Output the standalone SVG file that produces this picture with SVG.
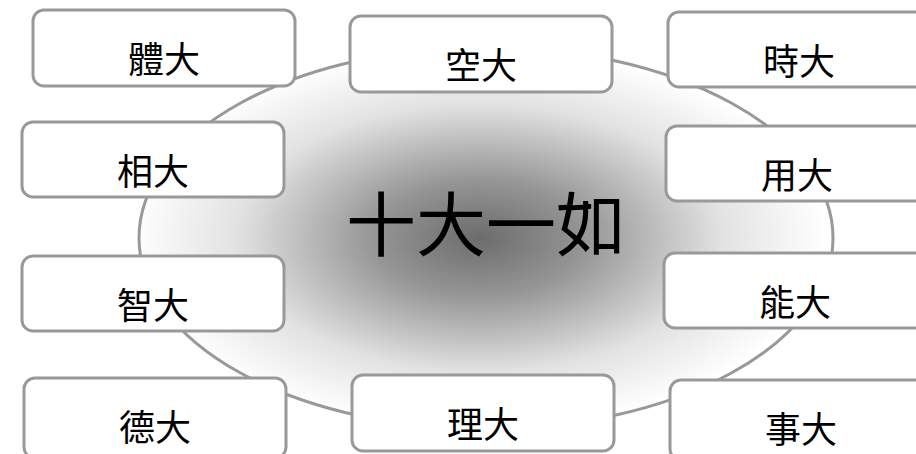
<svg xmlns="http://www.w3.org/2000/svg" width="916" height="454" viewBox="0 0 916 454">
<defs>
<radialGradient id="g" cx="0.49" cy="0.5" r="0.5">
<stop offset="0" stop-color="#6c6c6c"/>
<stop offset="0.3" stop-color="#959595"/>
<stop offset="0.7" stop-color="#e2e2e2"/>
<stop offset="1" stop-color="#ffffff"/>
</radialGradient>
<style>
.box{fill:#ffffff;stroke:#999999;stroke-width:3}
.t{font-family:"Noto Sans CJK TC","Noto Sans CJK SC",sans-serif;font-size:36px;fill:#000;text-anchor:middle}
.c{font-family:"Noto Sans CJK TC","Noto Sans CJK SC",sans-serif;font-size:70px;fill:#000;text-anchor:middle}
</style>
</defs>
<g id="center">
<ellipse cx="486" cy="238" rx="347" ry="191" fill="url(#g)" stroke="#999999" stroke-width="3"/>
<text class="c" x="486" y="251">十大一如</text>
</g>
<g id="connectors"></g>
<g id="n1"><rect class="box" x="33" y="10" width="262" height="76" rx="11"/><text class="t" x="164" y="73">體大</text></g>
<g id="n2"><rect class="box" x="350" y="16" width="262" height="76" rx="11"/><text class="t" x="481" y="79">空大</text></g>
<g id="n3"><rect class="box" x="668" y="12" width="262" height="75" rx="11"/><text class="t" x="799" y="75">時大</text></g>
<g id="n4"><rect class="box" x="22" y="122" width="262" height="75" rx="11"/><text class="t" x="153" y="185">相大</text></g>
<g id="n5"><rect class="box" x="666" y="126" width="262" height="75" rx="11"/><text class="t" x="797" y="189">用大</text></g>
<g id="n6"><rect class="box" x="22" y="256" width="262" height="75" rx="11"/><text class="t" x="153" y="319">智大</text></g>
<g id="n7"><rect class="box" x="664" y="253" width="262" height="75" rx="11"/><text class="t" x="795" y="316">能大</text></g>
<g id="n8"><rect class="box" x="24" y="378" width="262" height="80" rx="11"/><text class="t" x="155" y="441">德大</text></g>
<g id="n9"><rect class="box" x="352" y="375" width="262" height="76" rx="11"/><text class="t" x="483" y="438">理大</text></g>
<g id="n10"><rect class="box" x="670" y="380" width="262" height="80" rx="11"/><text class="t" x="801" y="443">事大</text></g>
</svg>
